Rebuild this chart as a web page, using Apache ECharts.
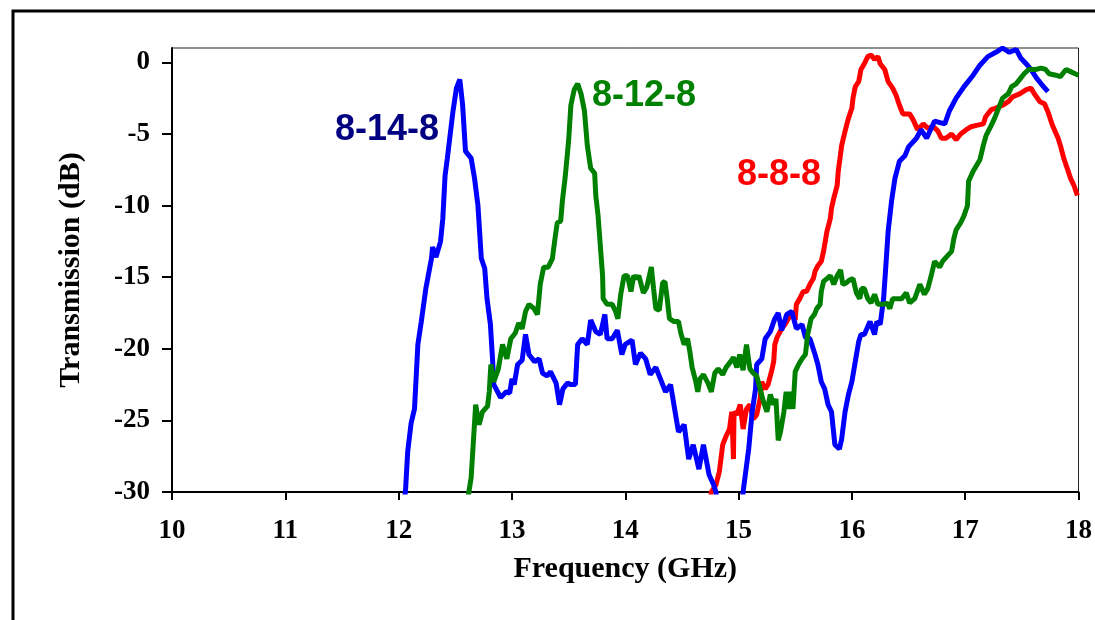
<!DOCTYPE html>
<html lang="en">
<head>
    <meta charset="UTF-8">
    <title>Transmission</title>
    <script type="text/javascript" src="https://cdn.jsdelivr.net/npm/echarts@6/dist/echarts.min.js"></script>
    <style>
        body{
            padding: 0px;
            margin: 0px;
            background-color: #ffffff;
        }
        #chart{
            width:1095px;
            height:620px;
        }
    </style>
</head>
<body>
    <div id="chart"></div>
    <script>
        // x: frequency in GHz, y: transmission in dB
        var xTicks = [10, 11, 12, 13, 14, 15, 16, 17, 18];
        var yTicks = [-30, -25, -20, -15, -10, -5, 0];

        var freq1488 = [12.04, 12.06, 12.08, 12.11, 12.14, 12.17, 12.20, 12.24, 12.29, 12.30, 12.33, 12.37, 12.39, 12.41, 12.43, 12.48, 12.51, 12.54, 12.565, 12.59, 12.64, 12.67, 12.70, 12.73, 12.76, 12.78, 12.81, 12.83, 12.84, 12.90, 12.95, 12.98, 13.00, 13.02, 13.05, 13.09, 13.12, 13.15, 13.20, 13.24, 13.27, 13.31, 13.34, 13.39, 13.42, 13.45, 13.49, 13.52, 13.56, 13.58, 13.62, 13.665, 13.695, 13.74, 13.78, 13.82, 13.84, 13.885, 13.93, 13.97, 14.00, 14.06, 14.09, 14.135, 14.18, 14.22, 14.27, 14.31, 14.355, 14.40, 14.44, 14.47, 14.52, 14.56, 14.60, 14.65, 14.69, 14.74, 14.78, 14.80, 14.82, 15.02, 15.04, 15.09, 15.12, 15.15, 15.16, 15.205, 15.235, 15.28, 15.32, 15.35, 15.38, 15.425, 15.47, 15.51, 15.56, 15.59, 15.63, 15.675, 15.70, 15.73, 15.76, 15.79, 15.82, 15.85, 15.89, 15.91, 15.94, 15.97, 16.00, 16.03, 16.06, 16.08, 16.11, 16.16, 16.20, 16.22, 16.25, 16.28, 16.30, 16.32, 16.35, 16.38, 16.42, 16.47, 16.50, 16.57, 16.61, 16.66, 16.73, 16.82, 16.86, 16.92, 16.99, 17.07, 17.13, 17.20, 17.27, 17.33, 17.39, 17.45, 17.49, 17.55, 17.58, 17.63, 17.67, 17.73];
        var db1488 = [-31, -30, -27.2, -25.2, -24.2, -19.7, -18.1, -15.8, -13.7, -12.9, -13.6, -12.5, -10.9, -7.9, -6.7, -3.4, -1.8, -1.2, -3.0, -6.2, -6.7, -8.1, -10.0, -13.7, -14.4, -16.5, -18.3, -20.9, -22.5, -23.4, -23.0, -23.1, -22.1, -22.5, -21.1, -20.8, -19.0, -20.4, -20.9, -20.7, -21.7, -21.9, -21.6, -22.4, -23.9, -22.8, -22.4, -22.5, -22.5, -19.7, -19.3, -19.7, -18.0, -18.8, -19.0, -17.6, -19.3, -19.3, -18.7, -20.4, -19.7, -19.4, -21.1, -20.3, -20.7, -21.8, -21.3, -22.1, -23.0, -22.5, -24.4, -25.8, -25.3, -27.7, -26.7, -28.4, -26.7, -28.8, -29.5, -30, -31.5, -31.5, -30, -26.95, -24.4, -22.8, -21.1, -20.7, -19.3, -18.8, -17.9, -17.5, -18.7, -17.6, -17.4, -18.6, -18.3, -19.2, -19.3, -20.4, -21.1, -22.3, -22.8, -23.9, -24.4, -26.7, -27.0, -26.3, -24.4, -23.2, -22.3, -20.9, -19.5, -19.0, -19.0, -18.1, -19.0, -18.1, -18.3, -16.5, -14.2, -11.8, -9.7, -8.1, -6.9, -6.5, -5.9, -5.3, -4.7, -5.3, -4.1, -4.3, -3.4, -2.5, -1.7, -0.9, -0.2, 0.4, 0.7, 1.0, 0.7, 0.9, 0.3, -0.2, -0.5, -1.1, -1.5, -2.05];

        var freq1288 = [12.60, 12.62, 12.64, 12.68, 12.71, 12.74, 12.785, 12.80, 12.814, 12.84, 12.88, 12.917, 12.955, 12.99, 13.03, 13.06, 13.09, 13.12, 13.15, 13.195, 13.225, 13.25, 13.28, 13.32, 13.357, 13.38, 13.40, 13.43, 13.445, 13.47, 13.50, 13.52, 13.55, 13.58, 13.61, 13.64, 13.665, 13.695, 13.73, 13.74, 13.76, 13.78, 13.80, 13.805, 13.84, 13.885, 13.915, 13.935, 13.96, 13.99, 14.02, 14.05, 14.075, 14.10, 14.12, 14.16, 14.19, 14.23, 14.25, 14.27, 14.30, 14.33, 14.35, 14.37, 14.39, 14.43, 14.47, 14.49, 14.52, 14.55, 14.57, 14.59, 14.62, 14.64, 14.66, 14.69, 14.73, 14.76, 14.79, 14.82, 14.86, 14.89, 14.93, 14.955, 14.985, 15.01, 15.04, 15.07, 15.10, 15.13, 15.16, 15.19, 15.22, 15.25, 15.28, 15.31, 15.33, 15.35, 15.37, 15.40, 15.42, 15.44, 15.46, 15.48, 15.50, 15.53, 15.56, 15.59, 15.61, 15.64, 15.67, 15.69, 15.72, 15.73, 15.75, 15.78, 15.81, 15.84, 15.87, 15.90, 15.92, 15.95, 15.98, 16.01, 16.04, 16.07, 16.085, 16.11, 16.14, 16.17, 16.20, 16.23, 16.28, 16.31, 16.335, 16.36, 16.41, 16.44, 16.48, 16.51, 16.555, 16.60, 16.64, 16.67, 16.70, 16.73, 16.775, 16.80, 16.845, 16.88, 16.90, 16.92, 16.96, 16.99, 17.02, 17.03, 17.07, 17.10, 17.13, 17.16, 17.185, 17.23, 17.26, 17.29, 17.33, 17.38, 17.41, 17.45, 17.49, 17.52, 17.56, 17.62, 17.67, 17.71, 17.74, 17.80, 17.84, 17.89, 17.93, 17.97, 18.0];
        var db1288 = [-31, -30, -29.0, -23.9, -25.3, -24.4, -24.0, -23.0, -21.1, -22.3, -21.4, -19.7, -20.7, -19.3, -18.9, -18.2, -18.6, -17.4, -16.9, -17.2, -17.6, -15.5, -14.3, -14.3, -13.7, -12.3, -11.2, -11.1, -9.7, -8.0, -5.5, -3.0, -1.9, -1.5, -2.2, -3.4, -5.8, -7.4, -7.75, -9.3, -10.7, -12.8, -14.9, -16.5, -16.9, -16.9, -17.4, -17.9, -16.2, -14.9, -14.9, -16.0, -14.9, -15.1, -14.9, -16.1, -15.7, -14.3, -15.8, -17.2, -17.3, -15.4, -15.3, -16.5, -17.9, -18.1, -18.1, -18.9, -19.7, -19.3, -20.2, -21.3, -22.2, -23.0, -22.1, -21.8, -22.4, -23.0, -21.7, -21.4, -21.8, -21.3, -20.9, -20.6, -21.3, -20.4, -21.5, -19.7, -21.4, -21.7, -21.9, -22.8, -23.7, -24.4, -23.2, -23.9, -23.5, -26.4, -25.8, -24.4, -23.0, -24.2, -23.0, -24.2, -21.6, -21.1, -20.7, -20.4, -19.0, -17.9, -17.6, -17.2, -16.9, -16.0, -15.3, -15.1, -14.9, -15.5, -14.9, -14.5, -15.5, -15.4, -15.2, -15.1, -16.1, -16.5, -15.8, -15.8, -16.5, -16.8, -16.2, -16.9, -16.9, -16.8, -17.2, -16.5, -16.5, -16.5, -16.1, -16.8, -16.5, -15.5, -16.2, -15.8, -14.9, -13.9, -14.3, -13.9, -13.5, -13.2, -12.3, -11.7, -11.2, -10.7, -10.0, -8.3, -7.6, -7.2, -6.8, -5.8, -5.1, -4.4, -3.9, -3.3, -2.5, -2.2, -1.7, -1.5, -1.1, -0.8, -0.5, -0.5, -0.4, -0.5, -0.8, -0.9, -1.0, -0.5, -0.65, -0.8, -0.9];

        var freq888 = [14.74, 14.76, 14.80, 14.83, 14.86, 14.89, 14.92, 14.94, 14.955, 14.96, 14.985, 15.015, 15.04, 15.07, 15.10, 15.13, 15.16, 15.19, 15.205, 15.235, 15.26, 15.29, 15.31, 15.32, 15.34, 15.38, 15.41, 15.44, 15.47, 15.50, 15.51, 15.54, 15.57, 15.60, 15.63, 15.66, 15.675, 15.70, 15.73, 15.75, 15.78, 15.81, 15.82, 15.84, 15.87, 15.88, 15.895, 15.91, 15.94, 15.97, 16.00, 16.01, 16.03, 16.06, 16.08, 16.11, 16.14, 16.17, 16.20, 16.23, 16.25, 16.29, 16.32, 16.36, 16.39, 16.42, 16.45, 16.48, 16.51, 16.54, 16.58, 16.63, 16.67, 16.72, 16.76, 16.79, 16.83, 16.88, 16.92, 16.96, 17.01, 17.05, 17.10, 17.16, 17.18, 17.23, 17.27, 17.33, 17.38, 17.42, 17.48, 17.54, 17.58, 17.61, 17.66, 17.70, 17.73, 17.77, 17.82, 17.84, 17.87, 17.90, 17.93, 17.96, 17.99];
        var db888 = [-31, -30, -29.5, -28.6, -26.7, -26.1, -25.6, -24.4, -27.7, -24.4, -24.6, -23.9, -25.6, -24.2, -23.9, -24.9, -24.6, -23.5, -22.3, -22.8, -22.5, -21.6, -20.9, -19.7, -19.2, -18.6, -18.3, -17.9, -17.4, -18.0, -16.9, -16.5, -16.0, -16.0, -15.5, -15.1, -14.6, -14.2, -13.9, -13.2, -11.8, -10.9, -10.2, -9.5, -8.6, -7.6, -6.7, -5.8, -4.8, -3.9, -3.2, -2.5, -1.7, -1.35, -0.5, -0.1, 0.4, 0.5, 0.2, 0.4, -0.1, -0.5, -1.35, -1.8, -2.3, -3.0, -3.6, -3.6, -3.6, -4.0, -4.7, -4.3, -4.6, -4.5, -4.8, -5.3, -5.3, -5.0, -5.4, -5.0, -4.7, -4.5, -4.4, -4.3, -3.8, -3.3, -3.2, -3.0, -2.75, -2.4, -2.2, -1.9, -1.8, -2.2, -2.75, -2.9, -3.45, -4.4, -5.3, -5.8, -6.7, -7.4, -8.1, -8.6, -9.3];

        function pairs(xs, ys) {
            return xs.map(function (x, i) { return [x, ys[i]]; });
        }

        var serif = '"Liberation Serif", "Times New Roman", serif';
        var sans = '"Liberation Sans", Arial, sans-serif';

        var chart = echarts.init(document.getElementById('chart'));

        function tag(text, color, left, top) {
            return {
                type: 'text',
                left: left,
                top: top,
                z: 100,
                style: {
                    text: text,
                    font: 'bold 36px ' + sans,
                    fill: color,
                    shadowColor: 'rgba(0,0,0,0.35)',
                    shadowBlur: 3,
                    shadowOffsetX: 2,
                    shadowOffsetY: 2
                }
            };
        }

        chart.setOption({
            backgroundColor: '#ffffff',
            animation: false,
            grid: {
                left: 172, right: 14, top: 48, bottom: 128,
                show: true, borderColor: '#222', borderWidth: 1
            },
            xAxis: {
                type: 'value', min: 10, max: 18, interval: 1,
                name: 'Frequency (GHz)', nameLocation: 'middle', nameGap: 62,
                nameTextStyle: { fontFamily: serif, fontWeight: 'bold', fontSize: 30, color: '#000' },
                axisLine: { onZero: false, lineStyle: { color: '#000', width: 2 } },
                axisTick: { show: true, inside: false, length: 8, lineStyle: { color: '#000', width: 2 } },
                axisLabel: {
                    fontFamily: serif, fontWeight: 'bold', fontSize: 27, color: '#000', margin: 26,
                    customValues: xTicks
                },
                splitLine: { show: false }
            },
            yAxis: {
                type: 'value', min: -30, max: 1, interval: 5,
                name: 'Transmission (dB)', nameLocation: 'middle', nameGap: 86, nameRotate: 90,
                nameTextStyle: { fontFamily: serif, fontWeight: 'bold', fontSize: 30, color: '#000' },
                axisLine: { onZero: false, lineStyle: { color: '#000', width: 2 } },
                axisTick: { show: true, inside: false, length: 10, lineStyle: { color: '#000', width: 2 }, customValues: yTicks },
                axisLabel: {
                    fontFamily: serif, fontWeight: 'bold', fontSize: 27, color: '#000', margin: 22,
                    customValues: yTicks
                },
                splitLine: { show: false }
            },
            series: [
                { name: '8-8-8', type: 'line', data: pairs(freq888, db888), showSymbol: false, clip: true,
                  lineStyle: { color: '#ff0000', width: 5 }, itemStyle: { color: '#ff0000' } },
                { name: '8-14-8', type: 'line', data: pairs(freq1488, db1488), showSymbol: false, clip: true,
                  lineStyle: { color: '#0000ff', width: 5 }, itemStyle: { color: '#0000ff' } },
                { name: '8-12-8', type: 'line', data: pairs(freq1288, db1288), showSymbol: false, clip: true,
                  lineStyle: { color: '#008000', width: 5 }, itemStyle: { color: '#008000' } }
            ],
            graphic: [
                {
                    type: 'polyline',
                    shape: { points: [[1095, 11], [13, 11], [13, 620]] },
                    style: { stroke: '#000', lineWidth: 3, fill: null }
                },
                tag('8-14-8', '#000080', 335, 112),
                tag('8-12-8', '#008000', 592, 78),
                tag('8-8-8', '#ff0000', 737, 157)
            ]
        });
    </script>
</body>
</html>
